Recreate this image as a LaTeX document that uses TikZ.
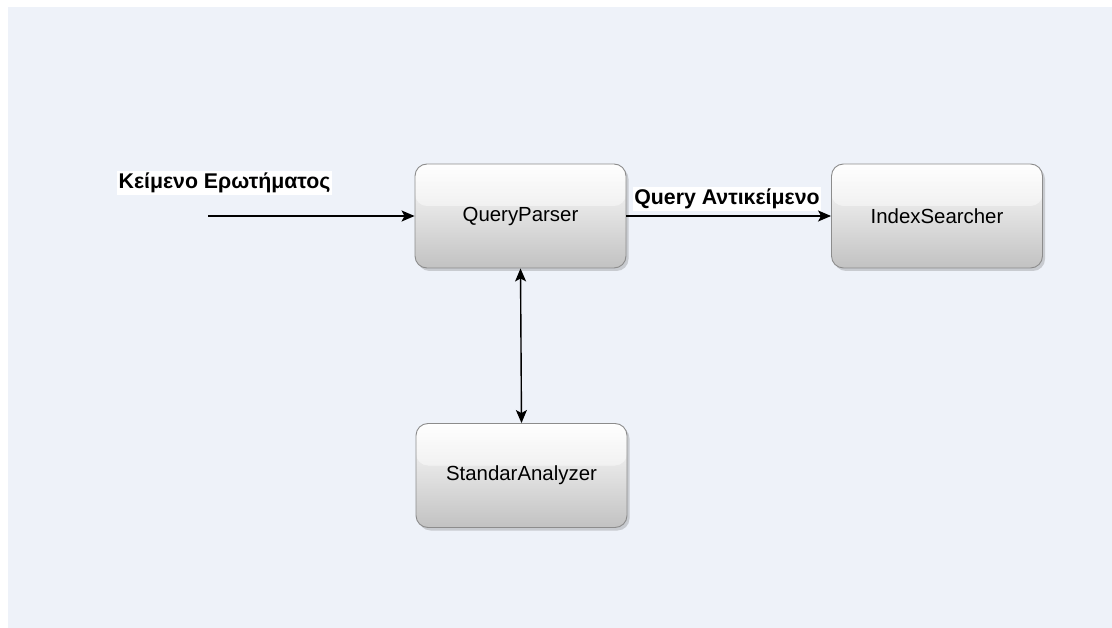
\documentclass[tikz,border=0pt]{standalone}
\usepackage{fontspec}
\setmainfont{Liberation Sans}
\usetikzlibrary{arrows.meta,shadows}
\definecolor{canvas}{HTML}{EEF2F9}
\definecolor{boxedge}{HTML}{8C8C8C}
\tikzset{
  block/.style={
    draw=boxedge, line width=0.9pt, rounded corners=12pt,
    minimum width=211pt, minimum height=104pt, inner sep=0pt,
    top color=white, bottom color=black!24,
    drop shadow={shadow xshift=2.5pt, shadow yshift=-3pt, opacity=0.28, fill=black!60},
    font=\fontsize{20.4}{24}\selectfont,
    path picture={
      \fill[white, opacity=0.45]
        (path picture bounding box.north west) rectangle
        ([yshift=-42pt]path picture bounding box.north east);
    }
  },
  tip/.tip={Stealth[length=13pt,width=11pt,inset=3pt]},
  flow/.style={line width=1.4pt, -tip},
  both/.style={line width=1.4pt, tip-tip},
  tag/.style={fill=white, inner sep=1.5pt, font=\bfseries\fontsize{21.3}{24}\selectfont}
}
\begin{document}
\begin{tikzpicture}[x=1pt, y=-1pt]
  \useasboundingbox (0,0) rectangle (1112,628);
  \fill[white] (0,0) rectangle (1112,628);
  \fill[canvas] (8,7) rectangle (1112,628);

  \node[block] (qp) at (520.5,216) {QueryParser};
  \node[block] (is) at (937,216) {IndexSearcher};
  \node[block] (sa) at (521.5,475.5) {StandarAnalyzer};

  \coordinate (in) at (208,216);
  \node[tag] (intext) at (224.5,183) {Κείμενο Ερωτήματος};
  \node[tag] (qtext) at (727,199) {Query Αντικείμενο};

  \draw[flow] (in) -- (qp.west);
  \draw[flow] (qp.east) -- (is.west);
  \draw[both] (qp.south) -- (sa.north);
\end{tikzpicture}
\end{document}
